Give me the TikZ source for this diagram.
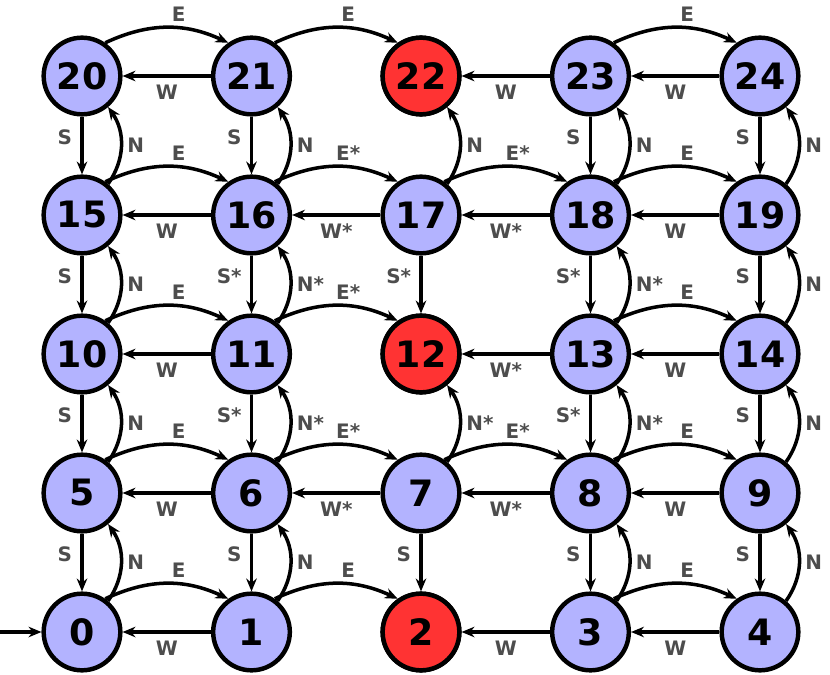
\documentclass[tikz,border=0pt]{standalone}
\usepackage{fontspec}
\setmainfont{DejaVu Sans}
\usetikzlibrary{arrows.meta}
\definecolor{cellblue}{HTML}{B3B3FF}
\definecolor{cellred}{HTML}{FF3333}
\definecolor{lblgray}{HTML}{4D4D4D}
\begin{document}
\begin{tikzpicture}[x=0.03cm,y=-0.03cm,
  cell/.style={circle,draw=black,line width=3.8pt,fill=cellblue,minimum size=2.3cm,inner sep=0pt,font=\fontsize{31}{32}\selectfont\bfseries},
  goal/.style={cell,fill=cellred},
  mv/.style={-{Stealth[length=11pt,width=9pt]},line width=3pt},
  lbl/.style={text=lblgray,font=\fontsize{17}{18}\selectfont\bfseries,inner sep=1pt}]
\useasboundingbox (0,0) rectangle (830,675);
% states
\foreach \j in {0,...,4}
  \foreach \i in {0,...,4}{
    \pgfmathtruncatemacro{\n}{5*\j+\i}
    \node[cell] (s\n) at ({82+169.5*\i},{632-139*\j}) {\n};
  }
\foreach \n in {2,12,22} \node[goal] at (s\n) {\n};
\coordinate (start) at (0,632);
\draw[mv] (start) -- (s0);
% west moves
\foreach \a/\b/\t in {21/20/W,23/22/W,24/23/W,16/15/W,17/16/W*,18/17/W*,19/18/W,11/10/W,13/12/W*,14/13/W,6/5/W,7/6/W*,8/7/W*,9/8/W,1/0/W,3/2/W,4/3/W}
  \draw[mv] (s\a) -- node[lbl,below=5pt] {\t} (s\b);
% east moves
\foreach \a/\b/\t in {20/21/E,21/22/E,23/24/E,15/16/E,16/17/E*,17/18/E*,18/19/E,10/11/E,11/12/E*,13/14/E,5/6/E,6/7/E*,7/8/E*,8/9/E,0/1/E,1/2/E,3/4/E}
  \draw[mv] (s\a.55) to[bend left=25] node[lbl,above=3pt,pos=0.6] {\t} (s\b.125);
% south moves
\foreach \a/\b/\t in {20/15/S,21/16/S,23/18/S,24/19/S,15/10/S,16/11/S*,17/12/S*,18/13/S*,19/14/S,10/5/S,11/6/S*,13/8/S*,14/9/S,5/0/S,6/1/S,7/2/S,8/3/S,9/4/S}
  \draw[mv] (s\a) -- node[lbl,left=6pt,pos=0.35] {\t} (s\b);
% north moves
\foreach \a/\b/\t in {15/20/N,16/21/N,17/22/N,18/23/N,19/24/N,10/15/N,11/16/N*,13/18/N*,14/19/N,5/10/N,6/11/N*,7/12/N*,8/13/N*,9/14/N,0/5/N,1/6/N,3/8/N,4/9/N}
  \draw[mv] (s\a.50) to[bend right=35] node[lbl,right=3pt,pos=0.5] {\t} (s\b.-50);
\end{tikzpicture}
\end{document}
